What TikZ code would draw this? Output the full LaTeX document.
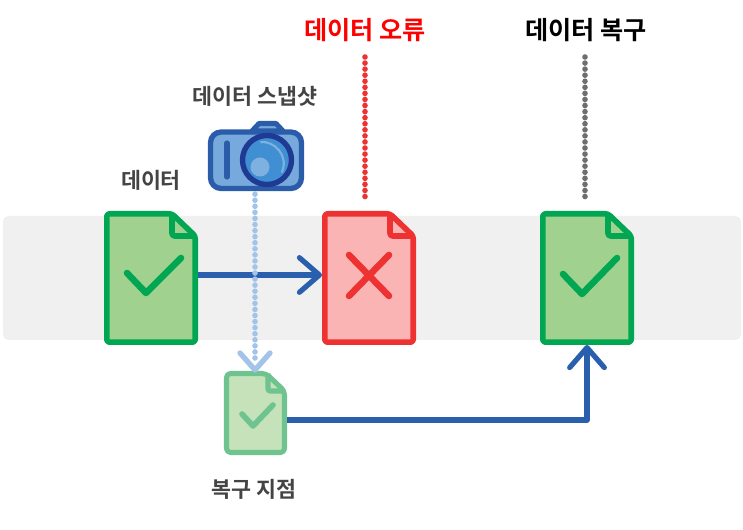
\documentclass[tikz,border=0pt]{standalone}
\usepackage{fontspec}
\setmainfont{Noto Sans CJK KR}[BoldFont={Noto Sans CJK KR Bold}]
\usetikzlibrary{arrows.meta}
\definecolor{bandc}{HTML}{F0F0F0}
\definecolor{flowc}{HTML}{2A5FAE}
\definecolor{greenS}{HTML}{00A651}
\definecolor{greenF}{HTML}{A0D18F}
\definecolor{redS}{HTML}{EE3232}
\definecolor{redF}{HTML}{FBB4B4}
\definecolor{paleS}{HTML}{6FC38E}
\definecolor{paleF}{HTML}{C5E2BB}
\definecolor{snapc}{HTML}{A3C4E8}
\definecolor{camS}{HTML}{2A5CAA}
\definecolor{camF}{HTML}{77A9DD}
\definecolor{lensS}{HTML}{1F3A93}
\definecolor{lensF}{HTML}{3F8FD2}
\definecolor{lensH}{HTML}{7FB1E0}
\definecolor{labelc}{HTML}{444444}
\definecolor{dotgray}{HTML}{6E6E6E}
\tikzset{
  x=0.75pt,y=-0.75pt,
  smalllabel/.style={font=\bfseries\fontsize{16.3}{18}\selectfont,text=labelc,inner sep=0pt},
  biglabel/.style={font=\bfseries\fontsize{18.9}{20}\selectfont,inner sep=0pt},
  flow/.style={draw=flowc,line width=3.9pt,line join=round,-{Straight Barb[length=15pt,width=26pt,round]}},
  dotline/.style={line width=4.2pt,line cap=round,dash pattern=on 0pt off 4.55pt},
  docbody/.style={line width=4.2pt,line join=round,rounded corners=2pt},
}
% name, left, top, fill, stroke
\newcommand{\bigdoc}[5]{%
  \node[inner sep=0pt,outer sep=0pt,minimum width=70.5pt,minimum height=100.5pt] (#1) at (#2+47,#3+67) {};
  \begin{scope}[shift={(#2,#3)}]
    \draw[docbody,fill=#4,draw=#5] (2.8,2.8) -- (68,2.8) -- (91.2,25) -- (91.2,131.2) -- (2.8,131.2) -- cycle;
    \draw[docbody,draw=#5] (68,2.8) -- (68,25) -- (91.2,25);
  \end{scope}}
\begin{document}
\begin{tikzpicture}
\useasboundingbox (0,0) rectangle (743,530);
\fill[bandc,rounded corners=4pt] (3,216) rectangle (741,340);

\bigdoc{dataDoc}{104}{211}{greenF}{greenS}
\bigdoc{errDoc}{322}{211}{redF}{redS}
\bigdoc{restDoc}{540}{211}{greenF}{greenS}

% marks
\draw[greenS,line width=4.9pt,line cap=round,line join=round] (127,273) -- (146,293) -- (181,258);
\draw[greenS,line width=4.9pt,line cap=round,line join=round] (563,274) -- (582,294) -- (617,258);
\draw[redS,line width=4.9pt,line cap=round] (349,255) -- (389,296) (389,255) -- (349,296);

% recovery point document
\node[inner sep=0pt,outer sep=0pt,minimum width=47pt,minimum height=63pt] (pointDoc) at (255.5,413) {};
\draw[paleS,fill=paleF,line width=3.8pt,line join=round,rounded corners=3pt] (226.5,373.5) -- (266,373.5) -- (284.5,391) -- (284.5,452.5) -- (226.5,452.5) -- cycle;
\draw[paleS,line width=3.8pt,line join=round,rounded corners=1.5pt] (268,373.5) -- (268,391) -- (284.5,391);
\draw[paleS,line width=4.2pt,line cap=round,line join=round] (242,414) -- (253,426) -- (273,405);

% flows
\draw[flow] (dataDoc.east |- 0,275) -- (errDoc.west |- 0,275);
\draw[flow] (pointDoc.east |- 0,420) -| (restDoc.south -| 587,0);

% camera
\node[inner sep=0pt,outer sep=0pt,minimum width=72pt,minimum height=46pt] (cam) at (256,160.5) {};
\coordinate (snapEnd) at (255,360);
\draw[snapc,dotline] (cam.south -| snapEnd) ++(0,3) -- (snapEnd);
\draw[snapc,line width=4pt,line cap=round,line join=round] (240,353) -- (255,370) -- (270,353);
\draw[camS,fill=camF,line width=3.8pt,line join=round] (252,131) -- (259,123.5) -- (276,123.5) -- (283,131) -- cycle;
\draw[camS,fill=camF,line width=4pt,rounded corners=8pt] (210.5,132) rectangle (301.5,188.5);
\draw[camS,line width=3.8pt,line cap=round] (227,143) -- (227,177);
\draw[lensS,fill=lensF,line width=4pt] (267,160) circle (24.5);
\draw[lensH,line width=1.6pt,line cap=round] (261,142) .. controls (274,141) and (289,155) .. (282,172);
\fill[lensH] (260,167) circle (9.5);

% dotted guides
\draw[redS,dotline] (365,57) -- (365,198);
\draw[dotgray,dotline] (585,57) -- (585,198);

% labels
\node[biglabel,text=red] (errLabel) at (365,30) {데이터 오류};
\node[biglabel,text=black] (restLabel) at (586,30) {데이터 복구};
\node[smalllabel] (snapLabel) at (255,96) {데이터 스냅샷};
\node[smalllabel] (dataLabel) at (151,180) {데이터};
\node[smalllabel] (pointLabel) at (254,489) {복구 지점};
\end{tikzpicture}
\end{document}
